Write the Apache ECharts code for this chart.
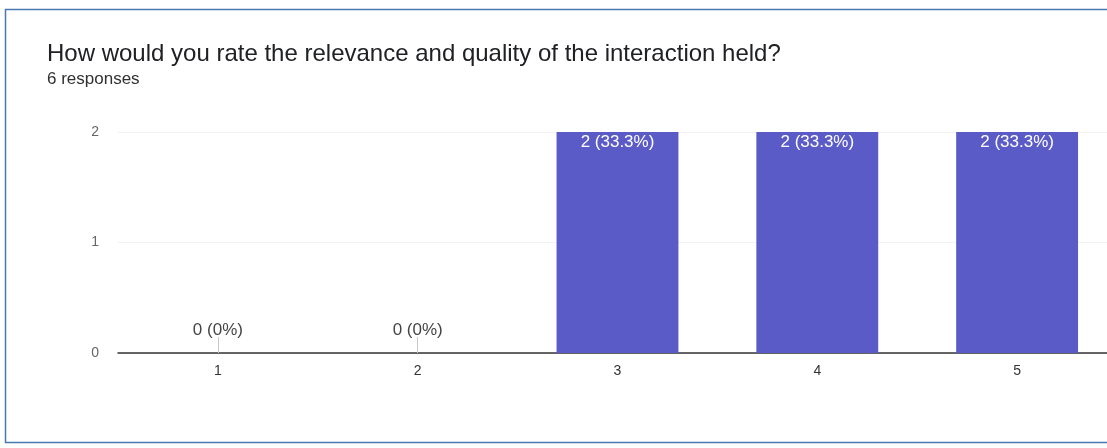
<!DOCTYPE html>
<html>
<head>
<meta charset="utf-8">
<script src="https://cdn.jsdelivr.net/npm/echarts@6/dist/echarts.min.js"></script>
<style>
html,body{margin:0;padding:0;background:#fff;overflow:hidden;width:1107px;height:448px;}
#chart{width:1130px;height:448px;}
</style>
</head>
<body>
<div id="chart"></div>
<script>
const titleText = 'How would you rate the relevance and quality of the interaction held?';
const subtitleText = '6 responses';
const categories = ['1', '2', '3', '4', '5'];
const counts = [0, 0, 2, 2, 2];
const yTicks = [0, 1, 2];
const total = counts.reduce((a, b) => a + b, 0);

function pctLabel(v) {
  const p = total ? (v / total * 100) : 0;
  const s = (Math.round(p * 10) / 10).toString();
  return v + ' (' + s + '%)';
}

const FONT = '"Liberation Sans", Arial, sans-serif';
const chart = echarts.init(document.getElementById('chart'), null, {renderer: 'canvas'});
chart.setOption({
  animation: false,
  backgroundColor: '#ffffff',
  textStyle: {fontFamily: FONT},
  title: {
    text: titleText,
    subtext: subtitleText,
    left: 42,
    top: 37,
    itemGap: 5,
    textStyle: {fontSize: 24, fontWeight: 'normal', color: '#202124', fontFamily: FONT},
    subtextStyle: {fontSize: 17, color: '#303030', fontFamily: FONT}
  },
  graphic: [{
    type: 'rect',
    shape: {x: 5.5, y: 9.5, width: 1140, height: 433},
    style: {fill: 'none', stroke: '#4a78b0', lineWidth: 1.5},
    silent: true
  }],
  grid: {left: 118, top: 132, width: 999, bottom: 95, containLabel: false},
  xAxis: {
    type: 'category',
    data: categories,
    axisLine: {lineStyle: {color: '#333', width: 1.5}},
    axisTick: {
      show: true, inside: true, alignWithLabel: true, length: 16,
      interval: (i) => counts[i] === 0,
      lineStyle: {color: '#c8c8c8', width: 1}
    },
    axisLabel: {color: '#333', fontSize: 14, margin: 11},
    splitLine: {show: false}
  },
  yAxis: {
    type: 'value',
    min: yTicks[0],
    max: yTicks[yTicks.length - 1],
    interval: 1,
    axisLine: {show: false},
    axisTick: {show: false},
    axisLabel: {color: '#666', fontSize: 14, margin: 19},
    splitLine: {lineStyle: {color: '#f2f2f2'}}
  },
  series: [{
    type: 'bar',
    data: counts.map(v => ({
      value: v,
      label: v === 0
        ? {show: true, position: 'top', distance: 14, color: '#444'}
        : {show: true, position: 'insideTop', distance: 2, color: '#ffffff'}
    })),
    barWidth: '61%',
    itemStyle: {color: '#5a5bc7'},
    label: {
      show: true,
      fontSize: 17,
      formatter: (p) => pctLabel(p.value)
    }
  }]
});
</script>
</body>
</html>
